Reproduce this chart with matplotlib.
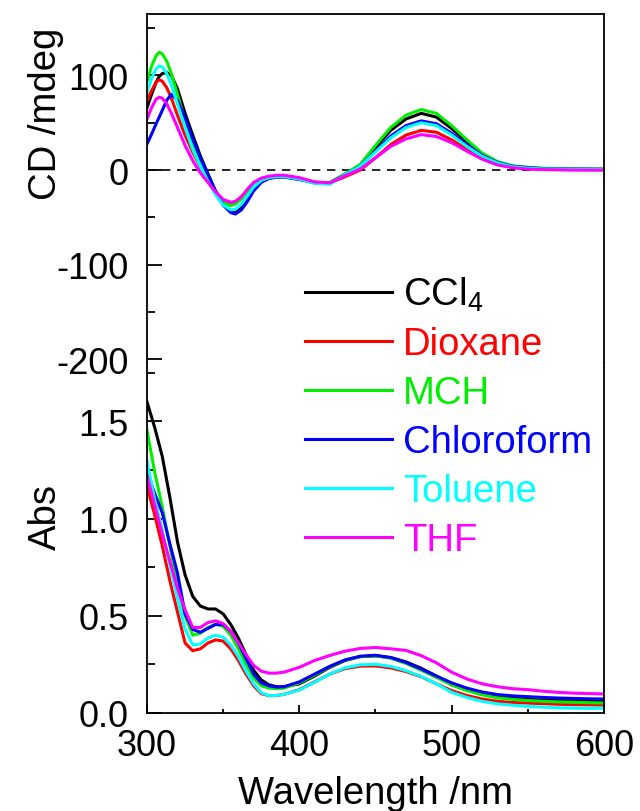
import numpy as np
import matplotlib
matplotlib.use("Agg")
import matplotlib.pyplot as plt
from matplotlib.ticker import MultipleLocator

plt.rcParams['font.family'] = ['Liberation Sans', 'DejaVu Sans']
plt.rcParams['mathtext.default'] = 'regular'
plt.rcParams['axes.unicode_minus'] = False

solvents = ['CCl$_4$', 'Dioxane', 'MCH', 'Chloroform', 'Toluene', 'THF']
colors = ['#000000', '#FF0000', '#00EE00', '#0000FF', '#00FFFF', '#FF00FF']

# CD spectra (mdeg)
wl_cd = [300, 303, 306, 308, 310, 313, 316, 320, 325, 330, 335, 340, 345, 350,
         355, 358, 362, 366, 370, 375, 380, 385, 390, 400, 410, 420, 430, 440,
         450, 460, 470, 480, 490, 500, 510, 520, 530, 540, 550, 560, 580, 600]
cd_ccl4 = [66, 80, 93, 99, 102, 103, 100, 86, 60, 37, 15, -4, -22, -36,
           -43.5, -44.8, -40, -30, -20, -12, -8.5, -7, -7, -9.5, -13, -14, -5, 5,
           24, 42, 54, 60, 56, 44, 30, 17, 8.5, 4, 2.5, 1.5, 1, 0.8]
cd_dioxane = [73, 84, 93, 95.5, 94, 87, 76, 58, 37, 19, 3, -11, -23, -32,
              -35.5, -35, -30, -22, -15, -10, -7.5, -6.5, -6.5, -9, -13, -14, -7, 0,
              13, 27, 37, 42, 40, 32, 22, 12.5, 6, 3, 1.5, 1, 0.5, 0.3]
cd_mch = [93.5, 110, 121, 124.5, 123, 115, 102, 80, 52, 27, 7, -10, -24, -34,
          -37.5, -36, -30, -22, -15, -10, -7.5, -6.5, -6.5, -9, -13, -13, -4, 6,
          26, 45, 58, 64, 60, 47, 32, 18, 9, 4.5, 3, 2, 1.2, 1]
cd_chcl3 = [27.5, 38, 49, 56, 63, 74, 80, 74, 55, 33, 13, -5, -23, -37,
            -45, -46.5, -42, -33, -22, -13, -9, -7.5, -7.5, -10, -13.5, -14, -5, 4,
            20, 36, 47, 52, 49, 39, 27, 15.5, 8, 4, 2.5, 1.5, 1, 0.8]
cd_toluene = [82, 97, 107, 110, 109, 102, 90, 70, 45, 22, 4, -12, -26, -37,
              -42, -41.5, -36, -27, -18, -11, -8, -7, -7, -9.5, -14, -15, -5, 4,
              19, 34, 45, 50, 47, 37, 25, 14.5, 7.5, 3.5, 2, 1.2, 0.8, 0.6]
cd_thf = [54, 66, 75, 77, 76, 70, 60, 45, 26, 10, -3, -13, -23, -31,
          -34, -33, -28, -20, -13, -8.5, -6.5, -5.5, -5.5, -8, -12.5, -13.5, -6, 1,
          13, 25, 33, 37.5, 35.5, 29, 20, 11.5, 5.5, 2.5, 1, 0.5, 0, 0]

# Absorption spectra
wl_abs = [300, 305, 310, 315, 320, 325, 330, 335, 340, 345, 350, 355, 360, 365,
          370, 375, 380, 385, 390, 400, 410, 420, 430, 440, 450, 460, 470, 480,
          490, 500, 510, 520, 530, 540, 550, 560, 570, 580, 590, 600]
abs_ccl4 = [1.60, 1.47, 1.32, 1.11, 0.88, 0.71, 0.60, 0.55, 0.535, 0.535, 0.51, 0.455, 0.385, 0.30,
            0.22, 0.17, 0.145, 0.135, 0.135, 0.15, 0.19, 0.235, 0.27, 0.29, 0.294, 0.285, 0.263, 0.23,
            0.19, 0.145, 0.118, 0.099, 0.085, 0.075, 0.07, 0.066, 0.064, 0.063, 0.063, 0.063]
abs_dioxane = [1.167, 1.02, 0.86, 0.68, 0.52, 0.36, 0.32, 0.33, 0.36, 0.376, 0.37, 0.33, 0.27, 0.20,
               0.14, 0.10, 0.089, 0.09, 0.096, 0.12, 0.16, 0.20, 0.228, 0.241, 0.242, 0.232, 0.213, 0.186,
               0.15, 0.115, 0.09, 0.072, 0.06, 0.054, 0.051, 0.048, 0.045, 0.043, 0.042, 0.041]
abs_mch = [1.455, 1.24, 1.06, 0.86, 0.66, 0.50, 0.40, 0.41, 0.44, 0.457, 0.445, 0.40, 0.33, 0.25,
           0.18, 0.14, 0.128, 0.125, 0.128, 0.155, 0.195, 0.238, 0.272, 0.29, 0.294, 0.282, 0.255, 0.22,
           0.183, 0.145, 0.115, 0.093, 0.078, 0.07, 0.064, 0.06, 0.057, 0.055, 0.053, 0.051]
abs_chcl3 = [1.24, 1.13, 1.03, 0.87, 0.72, 0.51, 0.43, 0.415, 0.435, 0.455, 0.455, 0.42, 0.36, 0.28,
             0.20, 0.155, 0.14, 0.133, 0.135, 0.16, 0.20, 0.24, 0.273, 0.292, 0.297, 0.285, 0.26, 0.226,
             0.19, 0.155, 0.128, 0.108, 0.095, 0.088, 0.084, 0.08, 0.077, 0.075, 0.073, 0.072]
abs_toluene = [1.296, 1.10, 0.94, 0.76, 0.59, 0.43, 0.35, 0.355, 0.385, 0.40, 0.39, 0.35, 0.29, 0.215,
               0.15, 0.105, 0.089, 0.09, 0.096, 0.118, 0.158, 0.20, 0.232, 0.248, 0.25, 0.24, 0.218, 0.188,
               0.15, 0.106, 0.08, 0.06, 0.047, 0.04, 0.034, 0.03, 0.027, 0.025, 0.024, 0.024]
abs_thf = [1.22, 1.07, 0.92, 0.78, 0.64, 0.53, 0.44, 0.44, 0.465, 0.474, 0.46, 0.42, 0.36, 0.30,
           0.245, 0.215, 0.205, 0.205, 0.21, 0.235, 0.27, 0.296, 0.318, 0.332, 0.337, 0.33, 0.322, 0.295,
           0.258, 0.21, 0.175, 0.15, 0.135, 0.125, 0.12, 0.112, 0.106, 0.102, 0.10, 0.098]

cd_all = [cd_ccl4, cd_dioxane, cd_mch, cd_chcl3, cd_toluene, cd_thf]
abs_all = [abs_ccl4, abs_dioxane, abs_mch, abs_chcl3, abs_toluene, abs_thf]

fs = 26      # tick labels
fl = 27.5    # axis labels and legend
fig = plt.figure(figsize=(6.4, 8.12), dpi=100)
ax1 = fig.add_axes([0.2297, 0.5517, 0.714, 0.4298])
ax2 = fig.add_axes([0.2297, 0.1207, 0.714, 0.4310])

for i in range(6):
    ax1.plot(wl_cd, cd_all[i], color=colors[i], lw=2.2, label=solvents[i])
    ax2.plot(wl_abs, abs_all[i], color=colors[i], lw=2.2)
ax1.axhline(0, color='k', lw=1.2, ls=(0, (5, 4)), zorder=0)

ax1.set_xlim(300, 600)
ax1.set_ylim(-204, 165)
ax2.set_xlim(300, 600)
ax2.set_ylim(0, 1.8)

ax1.spines['bottom'].set_visible(False)
ax2.spines['top'].set_visible(False)
for ax in (ax1, ax2):
    for s in ax.spines.values():
        s.set_linewidth(1.3)
    ax.xaxis.set_major_locator(MultipleLocator(100))
    ax.xaxis.set_minor_locator(MultipleLocator(50))
    ax.tick_params(axis='y', which='major', direction='in', length=11, width=1.3,
                   labelsize=fs, pad=13.5)
    ax.tick_params(axis='y', which='minor', direction='in', length=5.5, width=1.3)
    ax.tick_params(axis='x', which='major', direction='in', length=6, width=1.3,
                   labelsize=fs, pad=10.5)
    ax.tick_params(axis='x', which='minor', direction='in', length=3, width=1.3)

ax1.tick_params(axis='x', which='both', bottom=False, labelbottom=False)
ax1.yaxis.set_major_locator(MultipleLocator(100))
ax1.yaxis.set_minor_locator(MultipleLocator(50))
ax2.yaxis.set_major_locator(MultipleLocator(0.5))
ax2.yaxis.set_minor_locator(MultipleLocator(0.25))
ax2.yaxis.set_major_formatter(matplotlib.ticker.FormatStrFormatter('%.1f'))

ax1.set_ylabel('CD /mdeg', fontsize=fl)
ax1.yaxis.set_label_coords(-0.182, 0.716)
ax2.set_ylabel('Abs', fontsize=fl)
ax2.yaxis.set_label_coords(-0.182, 0.563)
ax2.set_xlabel('Wavelength /nm', fontsize=fl, labelpad=9)

fig.legend(loc='upper left', bbox_to_anchor=(305 / 640, 1 - 276 / 812),
           frameon=False, fontsize=fl, labelcolor='linecolor',
           handlelength=2.28, handletextpad=0.29, labelspacing=0.34,
           borderpad=0, borderaxespad=0)

fig.savefig('out.png', dpi=100)
